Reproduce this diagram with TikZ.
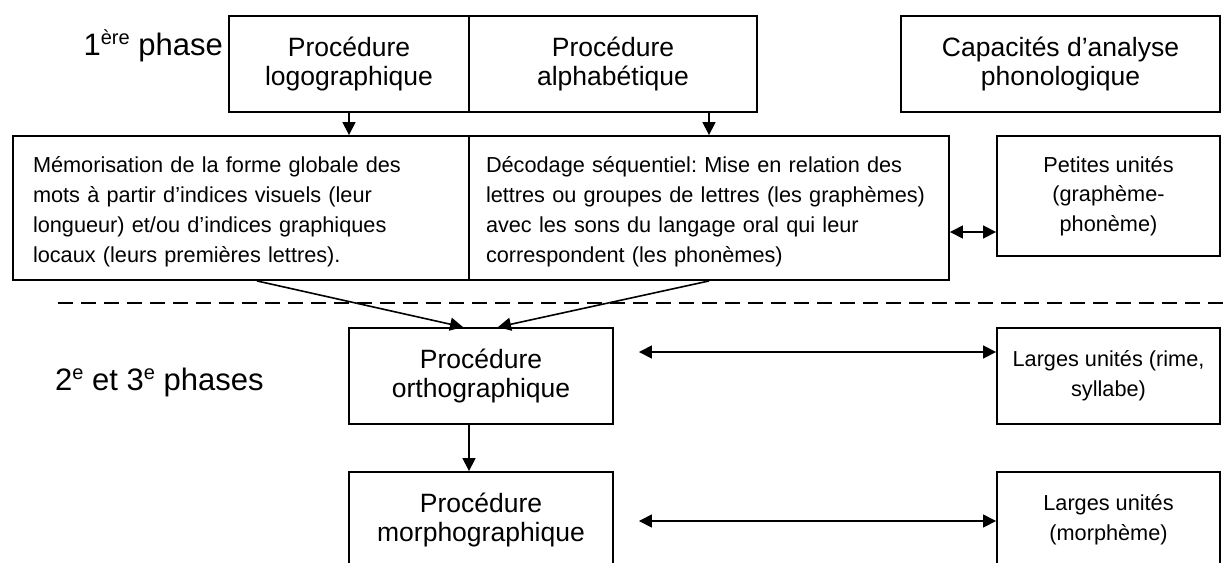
\documentclass[tikz,border=0pt]{standalone}
\usepackage{fontspec}
\setmainfont{Liberation Sans}
\usetikzlibrary{arrows.meta,calc}
\frenchspacing
\newcommand\supx[1]{\raisebox{11pt}{\fontsize{20}{20}\selectfont #1}}
\newcommand\toppad{\rule{0pt}{24pt}}
\begin{document}
\begin{tikzpicture}[x=1pt,y=-1pt,
  box/.style={draw,line width=1.9pt,inner sep=0pt,minimum height=96pt},
  head/.style={font=\fontsize{26.5}{29}\selectfont,align=center},
  body/.style={font=\fontsize{21.7}{30}\selectfont\frenchspacing,align=left},
  small/.style={font=\fontsize{21.7}{29.5}\selectfont,align=center},
  arr/.style={-{Triangle[length=13pt,width=13pt]},line width=1.6pt},
  darr/.style={{Triangle[length=13pt,width=13pt]}-{Triangle[length=13pt,width=13pt]},line width=1.6pt},
  sep/.style={line width=1.6pt,dash pattern=on 15pt off 8pt},
  phase/.style={font=\fontsize{31}{36}\selectfont,inner sep=0pt}]
\useasboundingbox (0,0) rectangle (1223,562);
\clip (0,0) rectangle (1223,562);

\node[box,head,minimum width=240pt] (logo) at (349,64) {Procédure\\logographique};
\node[box,head,minimum width=288pt] (alpha) at (613,64) {Procédure\\alphabétique};
\node[box,head,minimum width=319pt] (capa) at (1060.5,64) {Capacités d’analyse\\phonologique};

\node[box,body,text width=416pt,inner xsep=20pt,minimum height=144pt] (memo) at (241,208)
  {\toppad Mémorisation de la forme globale des\\mots à partir d’indices visuels (leur\\longueur) et/ou d’indices graphiques\\locaux (leurs premières lettres).};
\node[box,body,text width=446pt,inner xsep=17pt,minimum height=144pt] (deco) at (709,208)
  {\toppad Décodage séquentiel: Mise en relation des\\lettres ou groupes de lettres (les graphèmes)\\avec les sons du langage oral qui leur\\correspondent (les phonèmes)};
\node[box,small,minimum width=223pt,minimum height=120pt] (pet) at (1108.5,196) {Petites unités\\(graphème-\\phonème)};

\node[box,head,minimum width=264pt] (ortho) at (481,376) {Procédure\\orthographique};
\node[box,small,minimum width=223pt] (lar1) at (1108.5,376) {Larges unités (rime,\\syllabe)};
\node[box,head,minimum width=264pt] (morpho) at (481,520) {Procédure\\morphographique};
\node[box,small,minimum width=223pt] (lar2) at (1108.5,520) {Larges unités\\(morphème)};

\node[phase,anchor=base east] (ph1) at (223,55) {1\supx{ère} phase};
\node[phase,anchor=base west] (ph2) at (55,390) {2\supx{e} et 3\supx{e} phases};

\coordinate (dl) at (58,303);
\coordinate (dr) at (1223,303);
\draw[sep] (dl) -- (dr);

\draw[arr] (logo.south) -- (logo.south |- memo.north);
\draw[arr] (deco.north |- alpha.south) -- (deco.north);
\draw[arr] ($(memo.south)+(16,0)$) -- ($(ortho.north)+(-18,0)$);
\draw[arr] (deco.south) -- ($(ortho.north)+(17,0)$);
\draw[arr] ($(ortho.south)+(-12,0)$) -- ($(morpho.north)+(-12,0)$);
\draw[darr] ($(deco.east)+(0,24)$) -- ($(pet.west)+(0,36)$);
\draw[darr] ($(ortho.east)+(25,-24)$) -- ($(lar1.west)+(0,-24)$);
\draw[darr] ($(morpho.east)+(25,1)$) -- ($(lar2.west)+(0,1)$);
\end{tikzpicture}
\end{document}
